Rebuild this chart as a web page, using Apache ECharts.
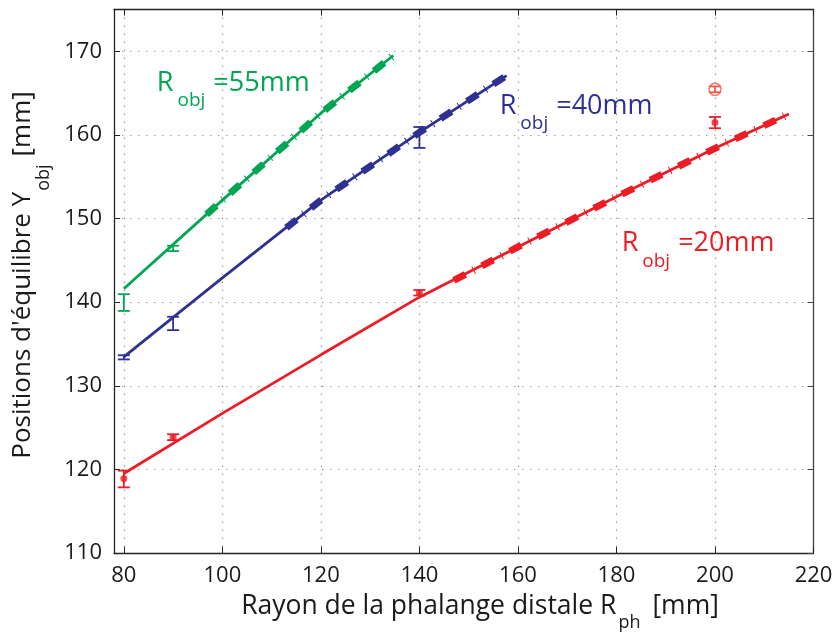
<!DOCTYPE html>
<html>
<head>
<meta charset="utf-8">
<script src="https://cdn.jsdelivr.net/npm/echarts@6/dist/echarts.min.js"></script>
<style>
  html, body { margin: 0; padding: 0; background: #fff; }
  #chart { width: 835px; height: 635px; }
</style>
</head>
<body>
<div id="chart"></div>
<script>
// ---- tick values ----
const xTicks = [80, 100, 120, 140, 160, 180, 200, 220];
const yTicks = [110, 120, 130, 140, 150, 160, 170];

// ---- model curves Y_obj(R_ph) ----
const curve20X = [80, 100, 120, 140, 160, 180, 200, 215];
const curve20Y = [119.5, 126.7, 133.7, 140.6, 146.6, 152.6, 158.4, 162.5];
const stable20X = [147, 160, 180, 200, 215];
const stable20Y = [142.6, 146.6, 152.6, 158.4, 162.5];

const curve40X = [80, 100, 120, 140, 157.7];
const curve40Y = [133.45, 142.9, 152.2, 160.3, 167.1];
const stable40X = [113, 120, 140, 157.7];
const stable40Y = [148.9, 152.2, 160.3, 167.1];

const curve55X = [80, 100, 120, 134.7];
const curve55Y = [141.6, 152.2, 162.6, 169.5];
const stable55X = [96.8, 100, 120, 134.7];
const stable55Y = [150.5, 152.2, 162.6, 169.5];

// ---- measurements (mean, low, high) ----
const meas20X = [80, 90, 140, 200];
const meas20Y = [118.9, 123.85, 141.1, 161.5];
const meas20Lo = [117.85, 123.5, 140.8, 160.8];
const meas20Hi = [119.85, 124.2, 141.45, 162.15];

const meas40X = [80, 90, 140];
const meas40Lo = [133.15, 136.65, 158.45];
const meas40Hi = [133.65, 138.25, 160.95];

const meas55X = [80, 90];
const meas55Lo = [138.95, 146.1];
const meas55Hi = [140.95, 146.75];

const outlierX = [200];
const outlierY = [165.45];
const outlierLo = [165.1];
const outlierHi = [165.8];

const FONT = '"Open Sans", "Noto Sans", sans-serif';
const GREEN = '#00a651';
const BLUE = '#2e3192';
const RED = '#ed1c24';
const LIGHT_RED = '#f05a48';

const zip = (xs, ys) => xs.map((x, i) => [x, ys[i]]);
const zip3 = (xs, a, b) => xs.map((x, i) => [x, a[i], b[i]]);

function errorBarItem(params, api) {
  const x = api.value(0);
  const lo = api.coord([x, api.value(1)]);
  const hi = api.coord([x, api.value(2)]);
  const w = 6;
  const style = { stroke: api.visual('color'), lineWidth: 1.8 };
  return {
    type: 'group',
    children: [
      { type: 'line', shape: { x1: lo[0], y1: lo[1], x2: hi[0], y2: hi[1] }, style },
      { type: 'line', shape: { x1: lo[0] - w, y1: lo[1], x2: lo[0] + w, y2: lo[1] }, style },
      { type: 'line', shape: { x1: hi[0] - w, y1: hi[1], x2: hi[0] + w, y2: hi[1] }, style }
    ]
  };
}

function curveSeries(xs, ys, color) {
  return {
    type: 'line', data: zip(xs, ys), showSymbol: false, silent: true,
    lineStyle: { color, width: 2.8 }, z: 3
  };
}
// thick dashes on the stable branch
function stableSeries(xs, ys, color) {
  return {
    type: 'line', data: zip(xs, ys), showSymbol: false, silent: true,
    lineStyle: { color, width: 7, type: [13, 18.5], cap: 'butt' }, z: 4
  };
}
// small cross ticks between the dashes
function crossSeries(xs, ys, color) {
  return {
    type: 'line', data: zip(xs, ys), showSymbol: false, silent: true,
    lineStyle: { color, width: 8, type: [1, 30.5], dashOffset: 9.75, cap: 'butt' }, z: 4
  };
}
function barSeries(xs, lo, hi, color) {
  return {
    type: 'custom', data: zip3(xs, lo, hi), renderItem: errorBarItem,
    itemStyle: { color }, encode: { x: 0, y: [1, 2] }, z: 5, silent: true
  };
}

const axisColor = '#222';
const gridLine = { show: true, lineStyle: { color: '#9a9a9a', width: 1.2, type: [1.4, 6.6] } };

const chart = echarts.init(document.getElementById('chart'), null, { renderer: 'canvas' });

chart.setOption({
  backgroundColor: '#fff',
  animation: false,
  grid: { left: 114, right: 21.5, top: 9.5, bottom: 82, containLabel: false, outerBoundsMode: 'none' },
  xAxis: [
    {
      type: 'value', min: 78, max: 220, position: 'bottom',
      axisLine: { show: true, onZero: false, lineStyle: { color: axisColor, width: 1.3 } },
      axisTick: { show: true, inside: true, length: 6, customValues: xTicks, lineStyle: { color: axisColor } },
      axisLabel: { customValues: xTicks, fontSize: 22, color: '#1a1a1a', fontFamily: FONT, margin: 12 },
      splitLine: gridLine
    },
    {
      type: 'value', min: 78, max: 220, position: 'top',
      axisLine: { show: true, onZero: false, lineStyle: { color: axisColor, width: 1.3 } },
      axisTick: { show: true, inside: true, length: 6, customValues: xTicks, lineStyle: { color: axisColor } },
      axisLabel: { show: false },
      splitLine: { show: false }
    }
  ],
  yAxis: [
    {
      type: 'value', min: 110, max: 175, position: 'left',
      axisLine: { show: true, onZero: false, lineStyle: { color: axisColor, width: 1.3 } },
      axisTick: { show: true, inside: true, length: 6, customValues: yTicks, lineStyle: { color: axisColor } },
      axisLabel: { customValues: yTicks, fontSize: 22, color: '#1a1a1a', fontFamily: FONT, margin: 12 },
      splitLine: gridLine
    },
    {
      type: 'value', min: 110, max: 175, position: 'right',
      axisLine: { show: true, onZero: false, lineStyle: { color: '#444', width: 1.3 } },
      axisTick: { show: true, inside: true, length: 6, customValues: yTicks, lineStyle: { color: '#444' } },
      axisLabel: { show: false },
      splitLine: { show: false }
    }
  ],
  series: [
    curveSeries(curve20X, curve20Y, RED),
    stableSeries(stable20X, stable20Y, RED),
    crossSeries(stable20X, stable20Y, RED),
    curveSeries(curve40X, curve40Y, BLUE),
    stableSeries(stable40X, stable40Y, BLUE),
    crossSeries(stable40X, stable40Y, BLUE),
    curveSeries(curve55X, curve55Y, GREEN),
    stableSeries(stable55X, stable55Y, GREEN),
    crossSeries(stable55X, stable55Y, GREEN),
    barSeries(meas20X, meas20Lo, meas20Hi, RED),
    barSeries(meas40X, meas40Lo, meas40Hi, BLUE),
    barSeries(meas55X, meas55Lo, meas55Hi, GREEN),
    barSeries(outlierX, outlierLo, outlierHi, LIGHT_RED),
    {
      type: 'scatter', data: zip(meas20X, meas20Y), symbol: 'circle', symbolSize: 7,
      itemStyle: { color: RED }, z: 6, silent: true
    },
    {
      type: 'scatter', data: zip(outlierX, outlierY), symbol: 'circle', symbolSize: 12,
      itemStyle: { color: 'rgba(0,0,0,0)', borderColor: LIGHT_RED, borderWidth: 1.5 }, z: 6, silent: true
    }
  ]
});

// ---- curve labels R_obj, anchored at the baseline-left of the "R" ----
const curveLabels = [
  { value: '=55mm', color: GREEN, at: [86.7, 165.1] },
  { value: '=40mm', color: BLUE, at: [156.3, 162.35] },
  { value: '=20mm', color: RED, at: [181.05, 145.9] }
];

function subscriptRich(mainSize, subSize, subDrop, color, subPadLeft, subPadRight) {
  const mainMid = mainSize / 2;
  const mainBase = mainMid + 0.35 * mainSize;
  const subBase = mainBase + subDrop;
  const subMid = subBase - 0.35 * subSize;
  const padTop = subMid - subSize / 2;
  return {
    baseOffset: mainBase,
    rich: {
      m: { fontSize: mainSize, lineHeight: mainSize, fontFamily: FONT, fill: color, verticalAlign: 'top' },
      s: {
        fontSize: subSize, lineHeight: subSize, fontFamily: FONT, fill: color, verticalAlign: 'top',
        padding: [padTop, subPadRight, 0, subPadLeft]
      }
    }
  };
}

const graphics = [];
curveLabels.forEach(lab => {
  const p = chart.convertToPixel({ xAxisIndex: 0, yAxisIndex: 0 }, lab.at);
  const r = subscriptRich(27, 19, 15, lab.color, 4, 8);
  graphics.push({
    type: 'text', x: p[0], y: p[1] - r.baseOffset, silent: true, z: 10,
    style: { text: '{m|R}{s|obj}{m|' + lab.value + '}', rich: r.rich, align: 'left', verticalAlign: 'top' }
  });
});

// axis titles
const xr = subscriptRich(26.5, 18, 14, '#1a1a1a', 2, 12);
graphics.push({
  type: 'text', x: 480, y: 615 - xr.baseOffset, silent: true, z: 10,
  style: {
    text: '{m|Rayon de la phalange distale R}{s|ph}{m|[mm]}', rich: xr.rich,
    align: 'center', verticalAlign: 'top'
  }
});
const yr = subscriptRich(26, 18, 18, '#1a1a1a', 1, 8);
graphics.push({
  type: 'text', x: 32 - yr.baseOffset, y: 275, rotation: Math.PI / 2, silent: true, z: 10,
  style: {
    text: "{m|Positions d'équilibre Y}{s|obj}{m|[mm]}", rich: yr.rich,
    align: 'center', verticalAlign: 'top'
  }
});

chart.setOption({ graphic: { elements: graphics } });
</script>
</body>
</html>
